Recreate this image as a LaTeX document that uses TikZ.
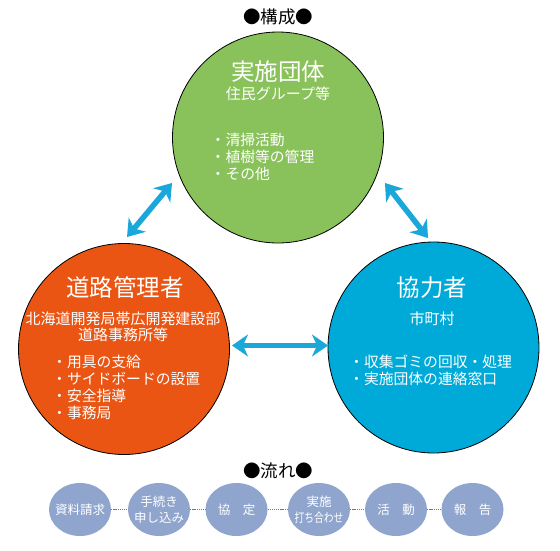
\documentclass[tikz,border=0pt]{standalone}
\usepackage{fontspec}
\setmainfont{Noto Sans CJK JP}
\usetikzlibrary{arrows.meta,shapes.geometric}
\definecolor{greenc}{RGB}{137,194,90}
\definecolor{orangec}{RGB}{234,85,20}
\definecolor{bluec}{RGB}{0,170,216}
\definecolor{arrowc}{RGB}{25,168,217}
\definecolor{flowc}{RGB}{143,165,206}
\definecolor{dotgray}{RGB}{120,120,120}
\begin{document}
\begin{tikzpicture}[x=1pt,y=-1pt,
  bigc/.style={circle, draw=black, line width=0.8pt, minimum size=211pt, inner sep=0pt},
  ttl/.style={text=white, inner sep=0pt, font=\fontsize{23.5}{26}\selectfont},
  sub/.style={text=white, inner sep=0pt, align=center, font=\fontsize{15}{16.5}\selectfont},
  lst/.style={text=white, inner sep=0pt, align=left, anchor=west, font=\fontsize{14.8}{17}\selectfont},
  biarrow/.style={draw=arrowc, line width=5.5pt, {Stealth[length=16pt,width=22pt,inset=5pt]}-{Stealth[length=16pt,width=22pt,inset=5pt]}},
  flow/.style={ellipse, fill=flowc, minimum width=62pt, minimum height=53pt, inner sep=-8pt, text=white, align=center, font=\fontsize{12.5}{16}\selectfont},
  dotc/.style={draw=dotgray, line width=1.4pt, dash pattern=on 1.2pt off 0.9pt},
  head/.style={inner sep=0pt, font=\fontsize{17.5}{20}\selectfont}
]
\useasboundingbox (0,0) rectangle (560,550);

% headings
\node[head] (h1) at (278,17) {●構成●};
\node[head] (h2) at (278,471) {●流れ●};

% circles
\node[bigc, fill=greenc] (g) at (278,137.5) {};
\node[bigc, fill=orangec] (o) at (124,349) {};
\node[bigc, fill=bluec] (b) at (433.5,347.5) {};

% green texts
\node[ttl] (gt) at (278,72) {実施団体};
\node[sub] (gs) at (278,93.5) {住民グループ等};
\node[lst] (gl) at (210.5,156.5) {・清掃活動\\・植樹等の管理\\・その他};

% orange texts
\node[ttl] (ot) at (125,287.5) {道路管理者};
\node[sub] (os) at (123,327) {北海道開発局帯広開発建設部\\道路事務所等};
\node[lst] (ol) at (52,387) {・用具の支給\\・サイドボードの設置\\・安全指導\\・事務局};

% blue texts
\node[ttl] (bt) at (432,288) {協力者};
\node[sub] (bs) at (432,319) {市町村};
\node[lst] (bl) at (349,370) {・収集ゴミの回収・処理\\・実施団体の連絡窓口};

% arrows
\coordinate (a1s) at (127,237);
\coordinate (a1e) at (172,183);
\coordinate (a2s) at (385,183);
\coordinate (a2e) at (428,238);
\coordinate (a3s) at (232,345.5);
\coordinate (a3e) at (328,345.5);
\draw[biarrow] (a1s) -- (a1e);
\draw[biarrow] (a2s) -- (a2e);
\draw[biarrow] (a3s) -- (a3e);

% flow
\node[flow] (f1) at (80,509.5) {資料請求};
\node[flow] (f2) at (159,509.5) {手続き\\申し込み};
\node[flow] (f3) at (236.5,509.5) {協　定};
\node[flow] (f4) at (319,509.5) {実施\\\scalebox{0.78}[1]{打ち合わせ}};
\node[flow] (f5) at (396,509.5) {活　動};
\node[flow] (f6) at (472.5,509.5) {報　告};
\draw[dotc] (f1) -- (f2);
\draw[dotc] (f2) -- (f3);
\draw[dotc] (f3) -- (f4);
\draw[dotc] (f4) -- (f5);
\draw[dotc] (f5) -- (f6);
\end{tikzpicture}
\end{document}
